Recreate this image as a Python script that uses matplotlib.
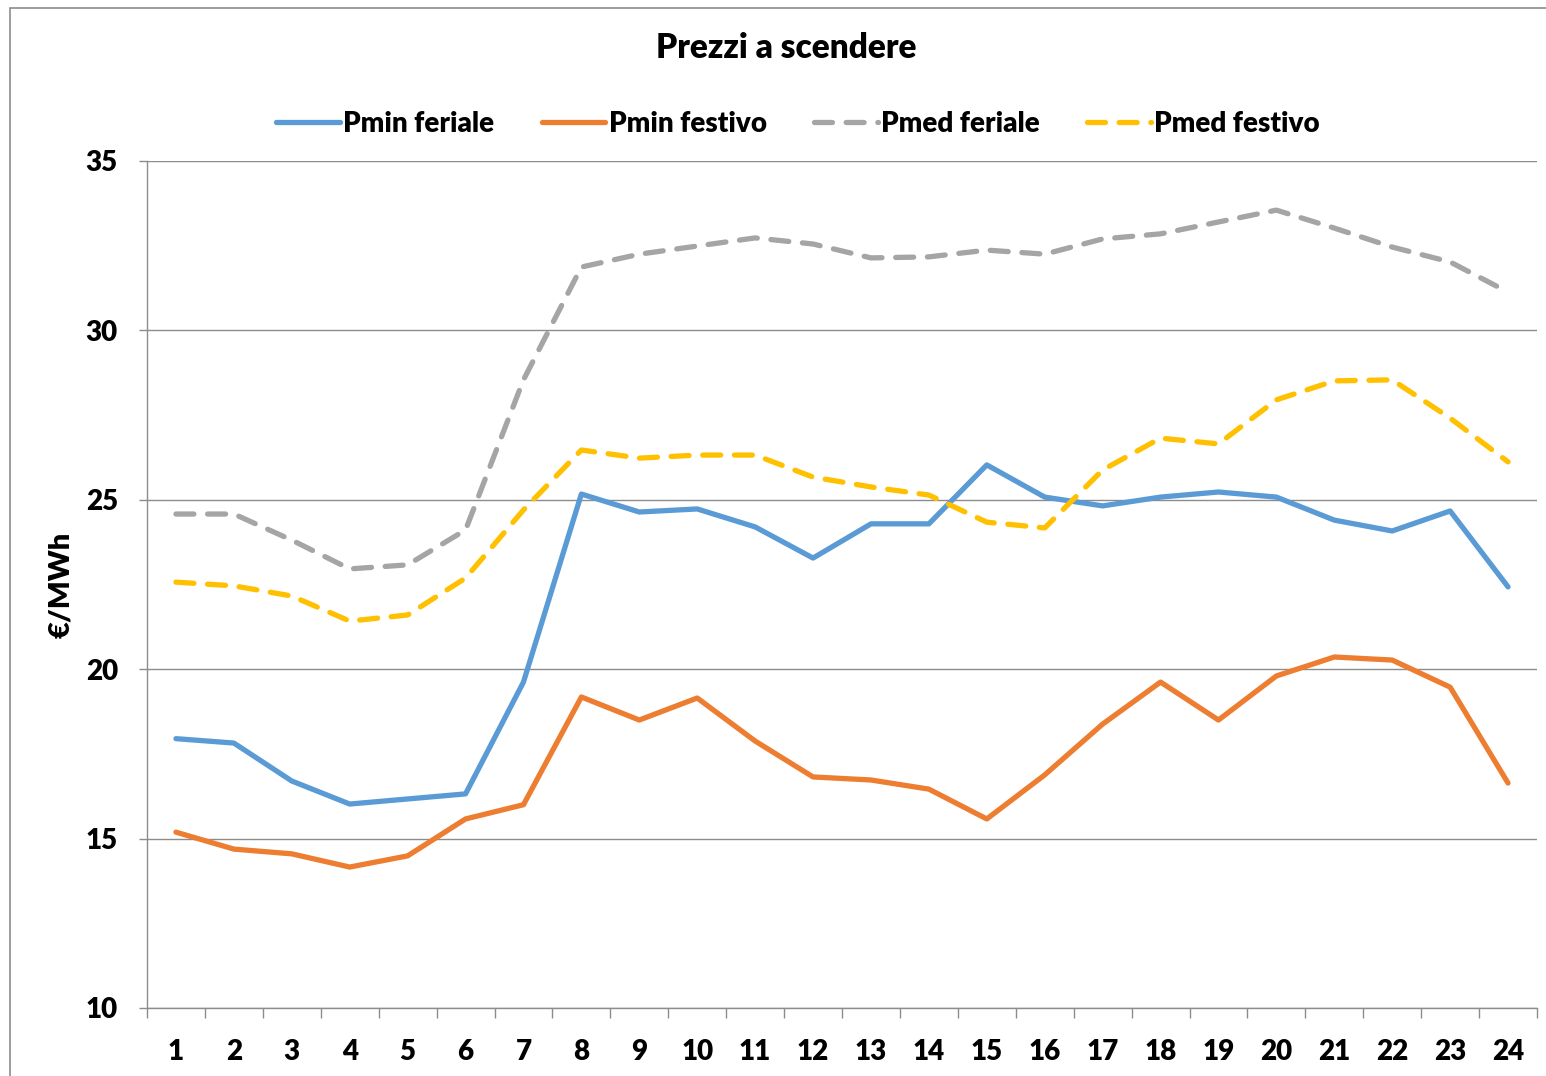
#! /usr/bin/env python3

# Imports
import matplotlib
matplotlib.use("Agg")
import matplotlib.pyplot as plt
from matplotlib.patches import Rectangle
from matplotlib.ticker import FixedLocator
import numpy as np


# Data
hours = list(range(1, 25))

pmin_feriale = [17.95, 17.82, 16.70, 16.02, 16.17, 16.32, 19.62, 25.17,
                24.64, 24.73, 24.20, 23.28, 24.29, 24.29, 26.03, 25.08,
                24.82, 25.08, 25.23, 25.08, 24.40, 24.08, 24.67, 22.43]

pmin_festivo = [15.19, 14.69, 14.55, 14.16, 14.49, 15.58, 16.00, 19.18,
                18.50, 19.15, 17.88, 16.82, 16.73, 16.46, 15.58, 16.88,
                18.38, 19.62, 18.50, 19.80, 20.36, 20.27, 19.47, 16.64]

pmed_feriale = [24.58, 24.58, 23.81, 22.96, 23.08, 24.11, 28.54, 31.87,
                32.25, 32.49, 32.73, 32.55, 32.14, 32.17, 32.37, 32.25,
                32.70, 32.85, 33.20, 33.55, 33.02, 32.46, 32.02, 31.13]

pmed_festivo = [22.57, 22.46, 22.16, 21.42, 21.60, 22.69, 24.70, 26.47,
                26.23, 26.32, 26.32, 25.67, 25.38, 25.14, 24.34, 24.17,
                25.88, 26.82, 26.65, 27.95, 28.51, 28.54, 27.41, 26.12]

series_names = ["Pmin feriale", "Pmin festivo", "Pmed feriale", "Pmed festivo"]
colors = ["#5B9BD5", "#ED7D31", "#A5A5A5", "#FFC000"]
title = "Prezzi a scendere"
ylabel = "€/MWh"


# Configuration
plt.rcParams["font.family"] = ["Lato", "DejaVu Sans"]
plt.rcParams["font.weight"] = "heavy"
W, H = 1546, 1076
grid_col = "#8C8C8C"
tick_fs = 20


# Code
fig = plt.figure(figsize=(W / 100, H / 100), dpi=100)
ax = fig.add_axes([147 / W, 1 - 1008 / H, 1390 / W, 847 / H])

lw = 3.8
ax.plot(hours, pmin_feriale, "-", color=colors[0], lw=lw, label=series_names[0],
        solid_joinstyle="round", solid_capstyle="round", zorder=3)
ax.plot(hours, pmin_festivo, "-", color=colors[1], lw=lw, label=series_names[1],
        solid_joinstyle="round", solid_capstyle="round", zorder=3)
ax.plot(hours, pmed_feriale, color=colors[2], lw=lw, label=series_names[2],
        dashes=(3.4, 2.6), dash_capstyle="round", zorder=3)
ax.plot(hours, pmed_festivo, color=colors[3], lw=lw, label=series_names[3],
        dashes=(3.4, 2.6), dash_capstyle="round", zorder=3)

ax.set_xlim(0.5, 24.5)
ax.set_ylim(10, 35)
ax.set_yticks([10, 15, 20, 25, 30, 35])
ax.set_xticks(hours)
ax.xaxis.set_minor_locator(FixedLocator(np.arange(0.5, 25, 1)))
ax.tick_params(axis="x", which="major", length=0, pad=22, labelsize=tick_fs)
ax.tick_params(axis="x", which="minor", length=7, width=1, color=grid_col,
               direction="out")
ax.tick_params(axis="y", length=6, width=1, color=grid_col, pad=15,
               labelsize=tick_fs)
for lab in ax.get_xticklabels() + ax.get_yticklabels():
    lab.set_fontweight("heavy")

ax.grid(axis="y", color=grid_col, lw=1)
ax.set_axisbelow(True)
for s in ["top", "right"]:
    ax.spines[s].set_visible(False)
for s in ["left", "bottom"]:
    ax.spines[s].set_color(grid_col)
    ax.spines[s].set_linewidth(1)

ax.set_ylabel(ylabel, fontsize=21, fontweight="heavy")
ax.yaxis.set_label_coords(-0.0525, 0.5)

fig.text(786 / W, 1 - 48 / H, title, ha="center", va="center",
         fontsize=24, fontweight="heavy")

fig.legend(loc="center", bbox_to_anchor=(798 / W, 1 - 124 / H), ncol=4,
           frameon=False, fontsize=20, handlelength=2.3, handletextpad=0.12,
           columnspacing=1.7, borderaxespad=0)

# chart border like the original office chart frame
fig.patches.append(Rectangle((10 / W, -0.02), 1.1, 1 - 8 / H + 0.02,
                             transform=fig.transFigure, fill=False,
                             edgecolor=grid_col, lw=1.2))

plt.savefig("out.png", dpi=100)
